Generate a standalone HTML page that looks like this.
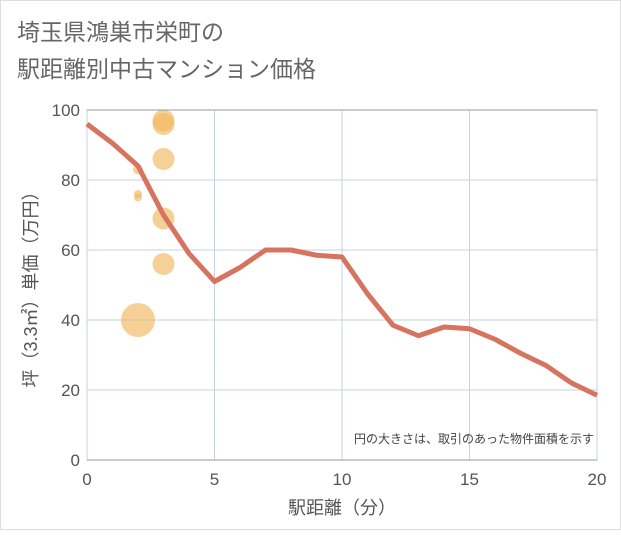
<!DOCTYPE html><html><head><meta charset="utf-8"><style>
body{margin:0;background:#fff}
svg{font-family:"Liberation Sans","Noto Sans CJK JP",sans-serif}
</style></head><body>
<svg id="c" width="621" height="530">
<rect x="0.5" y="0.5" width="620" height="529" fill="#fff" stroke="#ddd"/>
<text x="17" y="40" font-size="23" fill="#666">埼玉県鴻巣市栄町の</text>
<text x="17" y="77" font-size="23" fill="#666">駅距離別中古マンション価格</text>
<g id="grid"></g><g id="bub"></g><g id="ln"></g><g id="ax"></g>
<text x="594" y="443" font-size="12" fill="#444" text-anchor="end">円の大きさは、取引のあった物件面積を示す</text>
<text x="342" y="514" font-size="18" fill="#555" text-anchor="middle">駅距離（分）</text>
<text transform="translate(37,285) rotate(-90)" font-size="18" fill="#555" text-anchor="middle">坪（3.3㎡）単価（万円）</text>
</svg>
<script>
const lineX=[0,1,2,3,4,5,6,7,8,9,10,11,12,13,14,15,16,17,18,19,20];
const lineY=[96,90.5,84,70,59,51,55,60,60,58.5,58,47.5,38.5,35.5,38,37.5,34.5,30.5,27,22,18.5];
const bubX=[2,2,2,2,3,3,3,3,3];
const bubY=[40,75,76,83,97,96,86,69,56];
const bubR=[17,4,4,5,11,11,11,11,11];
const xTicks=[0,5,10,15,20];
const yTicks=[0,20,40,60,80,100];
const NS="http://www.w3.org/2000/svg";
const X=v=>87+v*25.5, Y=v=>460-v*3.5;
function mk(p,t,a){const e=document.createElementNS(NS,t);for(const k in a)e.setAttribute(k,a[k]);document.getElementById(p).appendChild(e);return e;}
mk('grid','rect',{x:87,y:110,width:510,height:350,fill:'none',stroke:'#ccc'});
yTicks.forEach(t=>{const l=mk('grid','line',{x1:87,x2:597,y1:Y(t),y2:Y(t),stroke:'#c5d3e0'});

const tx=mk('ax','text',{x:80,y:Y(t)+6,'font-size':17,fill:'#555','text-anchor':'end'});tx.textContent=t;
});
xTicks.forEach(t=>{const l=mk('grid','line',{x1:X(t),x2:X(t),y1:110,y2:460,stroke:'#c5d3e0'});

const tx=mk('ax','text',{x:X(t),y:485,'font-size':17,fill:'#555','text-anchor':'middle'});tx.textContent=t;
});
mk('ax','line',{x1:87,x2:597,y1:460,y2:460,stroke:'#999'});
mk('ax','line',{x1:87,x2:597,y1:110,y2:110,stroke:'#999'});
bubX.forEach((v,i)=>{const c=mk('bub','circle',{cx:X(v),cy:Y(bubY[i]),r:bubR[i],fill:'#f0b960',opacity:0.65});
});
const p=mk('ln','polyline',{points:lineX.map((v,i)=>X(v)+','+Y(lineY[i])).join(' '),fill:'none',stroke:'#d77460','stroke-width':5,'stroke-linejoin':'round'});

</script></body></html>
